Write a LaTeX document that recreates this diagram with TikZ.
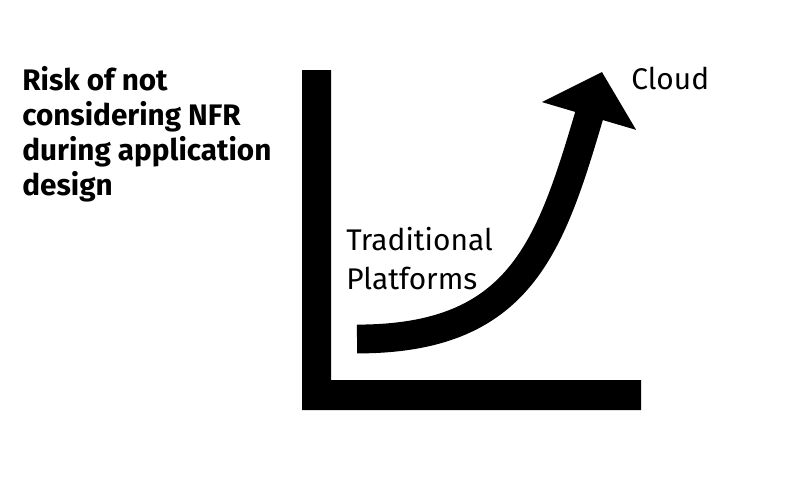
\documentclass[tikz,border=0pt]{standalone}
\usepackage{fontspec}
\setmainfont{Fira Sans}
\usetikzlibrary{
  arrows.meta,
  positioning
}

\begin{document}
\begin{tikzpicture}[
  x=0.02cm, y=-0.02cm,
  heading/.style={
    font=\bfseries\fontsize{16.9}{20}\selectfont,
    align=left,
    inner sep=0pt,
    anchor=north west
  },
  axistext/.style={
    font=\fontsize{17}{22}\selectfont,
    align=left,
    inner sep=0pt,
    anchor=north west
  },
  axisbar/.style={fill=black},
  growth/.style={
    line width=16.4pt,
    -{Triangle[length=26.1pt, width=54.4pt]}
  }
]
\useasboundingbox (0,0) rectangle (800,480);

% heading
\node[heading] (risk) at (22,66) {Risk of not\\considering NFR\\during application\\design};

% axes
\fill[axisbar] (302,70) -- (331,70) -- (331,380) -- (641,380) -- (641,410) -- (302,410) -- cycle;

% labels
\node[axistext] (trad) at (346,227) {Traditional\\Platforms};
\node[axistext] (cloud) at (631,67) {Cloud};

% growth curve
\coordinate (start) at (357,339);
\coordinate (tip) at (602,72);
\draw[growth] (start) .. controls (520,339) and (550,248) .. (tip);

\end{tikzpicture}
\end{document}
